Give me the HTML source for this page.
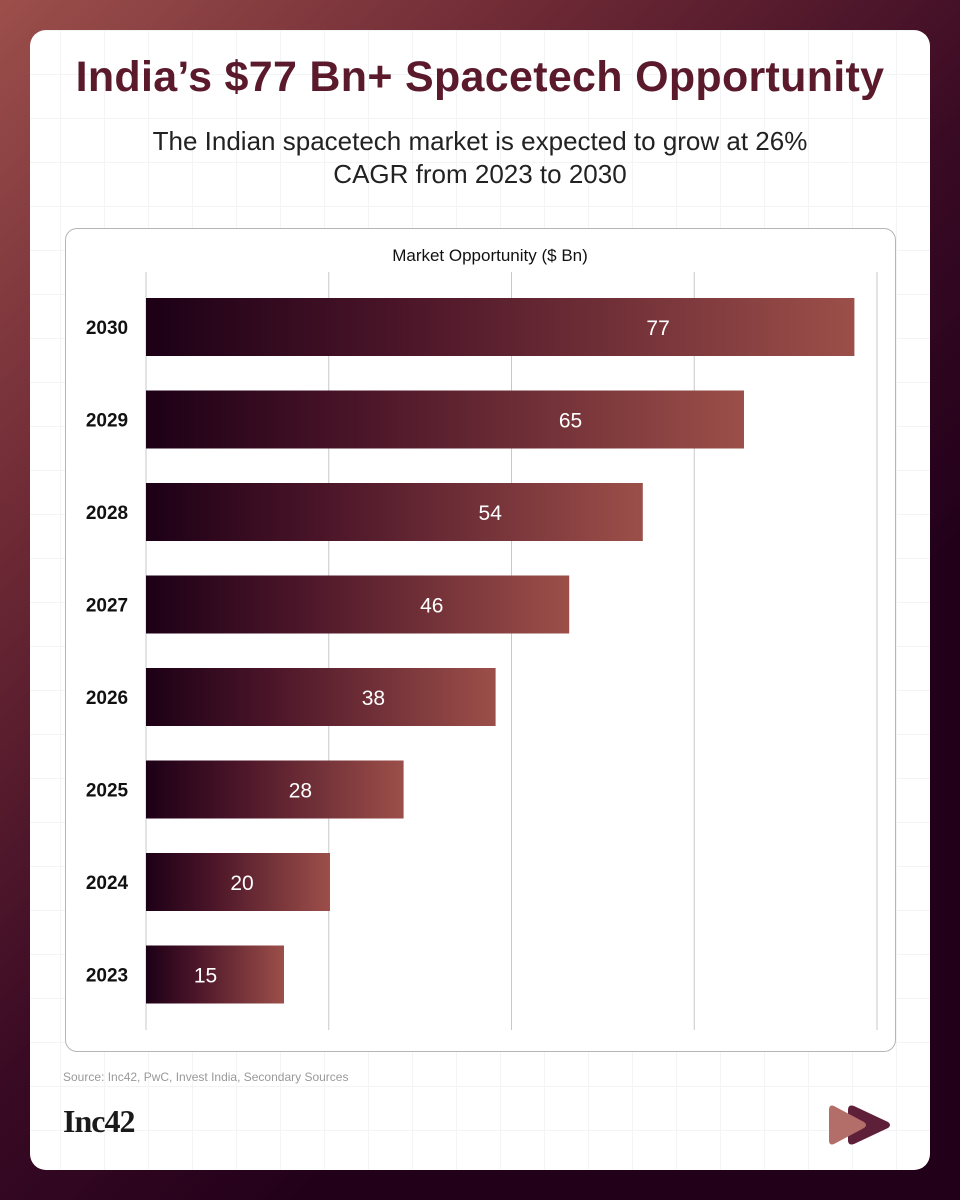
<!DOCTYPE html>
<html><head><meta charset="utf-8">
<style>
html,body{margin:0;padding:0;}
body{width:960px;height:1200px;position:relative;overflow:hidden;font-family:"Liberation Sans",sans-serif;
background:linear-gradient(135deg,#9c4f4b 0%,#6e2a35 25%,#3a0a24 50%,#22001a 70%,#22001a 100%);}
#card{position:absolute;left:30px;top:30px;width:900px;height:1140px;border-radius:16px;background-color:#fff;
background-image:linear-gradient(#f2f4f5 1px,transparent 1px),linear-gradient(90deg,#f2f4f5 1px,transparent 1px);
background-size:44px 44px;background-position:-14px 0px;}
h1{position:absolute;left:0;width:960px;top:53px;margin:0;text-align:center;font-size:43px;font-weight:bold;color:#5a1a2c;letter-spacing:0.3px;}
.sub{position:absolute;left:0;width:960px;text-align:center;font-size:26px;color:#222;}
#panel{position:absolute;left:65px;top:228px;width:829px;height:822px;border:1px solid #b5b5b5;border-radius:12px;background:#fff;}
</style></head><body>
<div id="card"></div>
<h1>India’s $77 Bn+ Spacetech Opportunity</h1>
<div class="sub" style="top:126px">The Indian spacetech market is expected to grow at 26%</div>
<div class="sub" style="top:159px">CAGR from 2023 to 2030</div>
<div id="panel"></div>
<svg id="chart" width="960" height="1200" style="position:absolute;left:0;top:0">
<defs><linearGradient id="bg" x1="0" x2="1" y1="0" y2="0"><stop offset="0" stop-color="#1c0016"/><stop offset="0.35" stop-color="#4a1428"/><stop offset="1" stop-color="#9c4f49"/></linearGradient></defs>
<text x="490" y="261" text-anchor="middle" font-size="17" fill="#111" font-family="Liberation Sans, sans-serif">Market Opportunity ($ Bn)</text>
</svg>
<div style="position:absolute;left:63px;top:1070px;font-size:12px;color:#999">Source: Inc42, PwC, Invest India, Secondary Sources</div>
<div style="position:absolute;left:63px;top:1103px;font-size:32px;font-weight:bold;color:#1a1a1a;font-family:'Liberation Serif',serif;letter-spacing:-1px">Inc42</div>
<svg style="position:absolute;left:826px;top:1100px" width="72" height="50">
<path d="M28 6 L62 22 Q66 25 62 28 L28 44 Q22 46 22 40 L22 10 Q22 4 28 6 Z" fill="#5e1f38"/>
<path d="M8 6 L38 22 Q42 25 38 28 L8 44 Q3 46 3 40 L3 10 Q3 4 8 6 Z" fill="#b46e69"/>
</svg>
<script>
const categories=["2030","2029","2028","2027","2026","2025","2024","2023"];
const values=[77,65,54,46,38,28,20,15];
const ticks=[0,20,40,60,80];
const svg=document.getElementById('chart');const NS='http://www.w3.org/2000/svg';
const x0=146,x1=877,top0=298,step=92.5,bh=58;
function xs(v){return x0+v*9.2;}
function gx(t){return x0+t*(x1-x0)/80;}
function yc(i){return top0+bh/2+i*step;}
ticks.forEach(t=>{const l=document.createElementNS(NS,'line');
l.setAttribute('x1',gx(t));l.setAttribute('x2',gx(t));l.setAttribute('y1',272);l.setAttribute('y2',1030);
l.setAttribute('stroke','#c8c8c8');l.setAttribute('stroke-width','1');


svg.appendChild(l);});
values.forEach((v,i)=>{
const r=document.createElementNS(NS,'rect');
r.setAttribute('x',x0);r.setAttribute('y',yc(i)-bh/2);r.setAttribute('width',xs(v)-x0);r.setAttribute('height',bh);r.setAttribute('fill','url(#bg)');


svg.appendChild(r);
const c=document.createElementNS(NS,'text');
c.setAttribute('x',107);c.setAttribute('y',yc(i)+7);c.setAttribute('text-anchor','middle');c.setAttribute('font-size','19');c.setAttribute('font-weight','bold');c.setAttribute('fill','#111');c.setAttribute('font-family','Liberation Sans, sans-serif');
c.textContent=categories[i];


svg.appendChild(c);
const t=document.createElementNS(NS,'text');
t.setAttribute('x',xs(v)-(50+v*1.9));t.setAttribute('y',yc(i)+8);t.setAttribute('text-anchor','middle');t.setAttribute('font-size','21');t.setAttribute('fill','#fff');t.setAttribute('font-family','Liberation Sans, sans-serif');
t.textContent=v;


svg.appendChild(t);
});
</script>
</body></html>
